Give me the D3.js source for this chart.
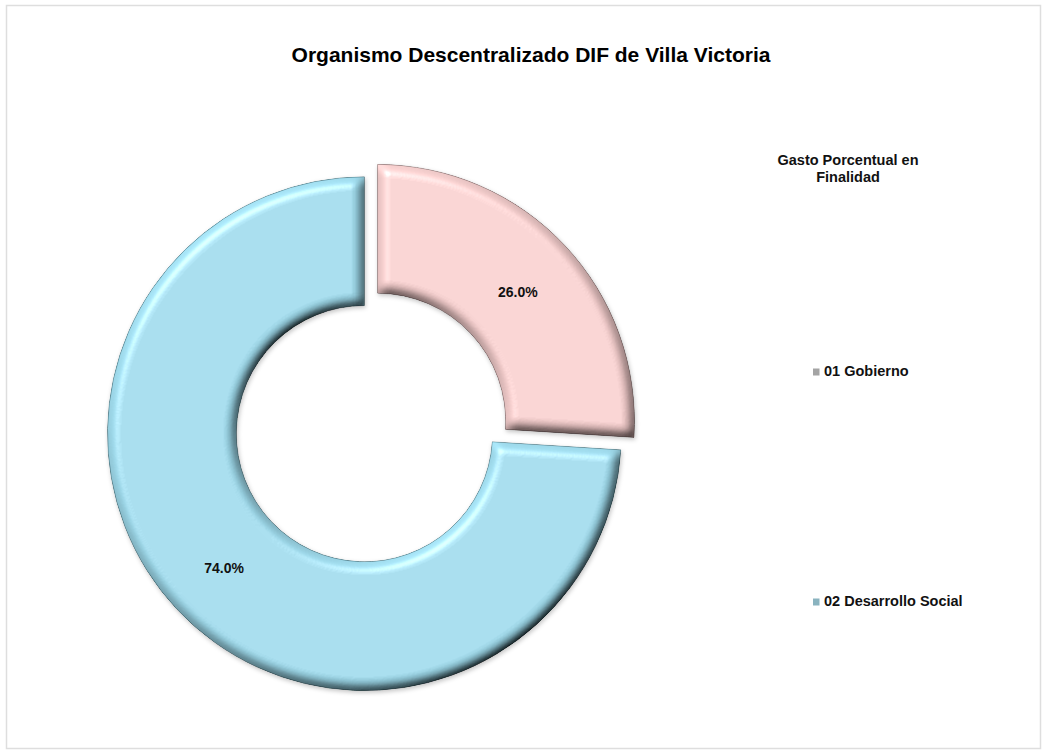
<!DOCTYPE html>
<html>
<head>
<meta charset="utf-8">
<script src="https://cdn.jsdelivr.net/npm/d3@7"></script>
<style>
  html, body { margin: 0; padding: 0; background: #ffffff; }
  svg { display: block; font-family: "Liberation Sans", Arial, sans-serif; }
</style>
</head>
<body>
<svg id="chart" width="1048" height="755"></svg>
<script>
// Spending share by purpose (finalidad)
const categories = ["01 Gobierno", "02 Desarrollo Social"];
const shares = [26.0, 74.0];
const sliceColors = ["#f1cbca", "#9bd5e6"];
const edgeColors = ["#6e5252", "#2f5c68"];
const markerColors = ["#a4a4a4", "#8ab3bf"];
const chartTitle = "Organismo Descentralizado DIF de Villa Victoria";
const legendTitle = ["Gasto Porcentual en", "Finalidad"];

const svg = d3.select("#chart");

// outer frame
svg.append("rect")
  .attr("x", 6.5).attr("y", 5.5)
  .attr("width", 1034).attr("height", 743)
  .attr("fill", "#ffffff")
  .attr("stroke", "#dedede")
  .attr("stroke-width", 1.5);

// bevel filter for the ring segments: diffuse shading of the rim plus a soft highlight
const defs = svg.append("defs");
const bevel = defs.append("filter").attr("id", "bevel")
  .attr("x", "-10%").attr("y", "-10%").attr("width", "120%").attr("height", "120%");
bevel.append("feGaussianBlur").attr("in", "SourceAlpha").attr("stdDeviation", 5.5).attr("result", "blur");
const diff = bevel.append("feDiffuseLighting")
  .attr("in", "blur").attr("surfaceScale", 9).attr("diffuseConstant", 1)
  .attr("lighting-color", "#ffffff").attr("result", "diff");
diff.append("feDistantLight").attr("azimuth", 235).attr("elevation", 55);
bevel.append("feComposite").attr("in", "SourceGraphic").attr("in2", "diff")
  .attr("operator", "arithmetic").attr("k1", 1.22).attr("k2", 0).attr("k3", 0).attr("k4", 0).attr("result", "shaded");
const spec = bevel.append("feSpecularLighting")
  .attr("in", "blur").attr("surfaceScale", 9).attr("specularConstant", 0.8)
  .attr("specularExponent", 25).attr("lighting-color", "#ffffff").attr("result", "spec");
spec.append("feDistantLight").attr("azimuth", 235).attr("elevation", 50);
bevel.append("feComposite").attr("in", "spec").attr("in2", "SourceAlpha").attr("operator", "in").attr("result", "specIn");
bevel.append("feComposite").attr("in", "shaded").attr("in2", "specIn")
  .attr("operator", "arithmetic").attr("k1", 0).attr("k2", 1).attr("k3", 0.45).attr("k4", 0).attr("result", "lit");
bevel.append("feComposite").attr("in", "lit").attr("in2", "SourceAlpha").attr("operator", "in").attr("result", "litIn");
// soft shadow along the rim
bevel.append("feGaussianBlur").attr("in", "SourceAlpha").attr("stdDeviation", 2).attr("result", "shBlur");
bevel.append("feOffset").attr("in", "shBlur").attr("dx", 1).attr("dy", 2).attr("result", "shOff");
bevel.append("feFlood").attr("flood-color", "#000000").attr("flood-opacity", 0.22).attr("result", "shCol");
bevel.append("feComposite").attr("in", "shCol").attr("in2", "shOff").attr("operator", "in").attr("result", "shadow");
const merge = bevel.append("feMerge");
merge.append("feMergeNode").attr("in", "shadow");
merge.append("feMergeNode").attr("in", "litIn");

// title
svg.append("text")
  .attr("x", 531).attr("y", 62)
  .attr("text-anchor", "middle")
  .attr("font-size", 21).attr("font-weight", "bold")
  .attr("fill", "#000")
  .text(chartTitle);

// doughnut
const cx = 371, cy = 427.5;
const outerR = 257, innerR = 128, explode = 9;

const pie = d3.pie().sort(null).value(d => d)(shares);
const arc = d3.arc().innerRadius(innerR).outerRadius(outerR);
const labelArc = d3.arc().innerRadius((innerR + outerR) / 2).outerRadius((innerR + outerR) / 2);

const ring = svg.append("g").attr("transform", `translate(${cx},${cy})`);
const slices = ring.selectAll("g.slice").data(pie).enter().append("g")
  .attr("class", "slice")
  .attr("transform", d => {
    const a = (d.startAngle + d.endAngle) / 2;
    return `translate(${explode * Math.sin(a)},${-explode * Math.cos(a)})`;
  });

slices.append("path")
  .attr("d", arc)
  .attr("fill", (d, i) => sliceColors[i])
  .attr("stroke", (d, i) => edgeColors[i])
  .attr("stroke-width", 1)
  .attr("stroke-opacity", 0.55)
  .attr("filter", "url(#bevel)");

slices.append("text")
  .attr("transform", d => {
    const c = labelArc.centroid(d);
    return `translate(${c[0]},${c[1] + 3})`;
  })
  .attr("text-anchor", "middle")
  .attr("dy", "0.35em")
  .attr("font-size", 14).attr("font-weight", "bold")
  .attr("fill", "#111")
  .text(d => d.data.toFixed(1) + "%");

// legend
const legend = svg.append("g");
legend.selectAll("text.lt").data(legendTitle).enter().append("text")
  .attr("class", "lt")
  .attr("x", 848).attr("y", (d, i) => 165 + i * 17)
  .attr("text-anchor", "middle")
  .attr("font-size", 14.5).attr("font-weight", "bold")
  .attr("fill", "#111")
  .text(d => d);

const legendY = d3.scalePoint().domain(categories).range([376, 606]);
const items = legend.selectAll("g.item").data(categories).enter().append("g")
  .attr("class", "item")
  .attr("transform", d => `translate(813,${legendY(d)})`);
items.append("rect")
  .attr("x", 0).attr("y", -7.5)
  .attr("width", 6.5).attr("height", 7)
  .attr("fill", (d, i) => markerColors[i]);
items.append("text")
  .attr("x", 11).attr("y", 0)
  .attr("font-size", 14.5).attr("font-weight", "bold")
  .attr("fill", "#111")
  .text(d => d);
</script>
</body>
</html>
